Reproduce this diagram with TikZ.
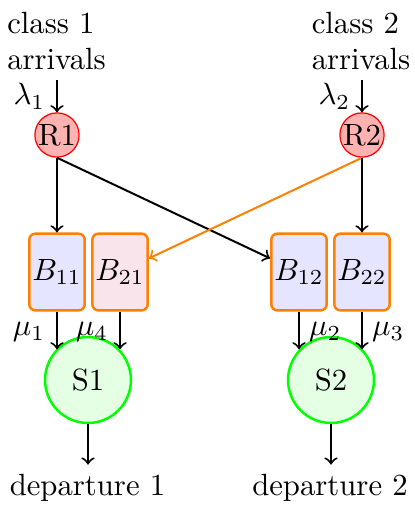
\documentclass[tikz,border=0pt]{standalone}
\usetikzlibrary{arrows}
\definecolor{bpink}{RGB}{250,228,235}
\tikzset{
  router/.style={circle, draw=red, fill=red!30, minimum size=14.4pt, inner sep=0pt},
  buffer/.style={rectangle, rounded corners=2pt, draw=orange, thick, fill=blue!10, minimum width=17.3pt, minimum height=25pt, inner sep=1pt},
  server/.style={circle, draw=green, thick, fill=green!10, minimum size=28pt, inner sep=0pt},
  txt/.style={align=left, inner sep=3pt},
  flow/.style={->, line width=0.65pt},
  lbll/.style={inner sep=3.5pt},
  lblr/.style={inner sep=3pt}
}
\begin{document}
\begin{tikzpicture}[x=0.3257pt, y=-0.3257pt]
\useasboundingbox (0,0) rectangle (414,506);
\node[txt] (C1) at (56.5,41) {class 1\\arrivals};
\node[txt] (C2) at (361,41) {class 2\\arrivals};
\node[router] (R1) at (57,135) {R1};
\node[router] (R2) at (362,135) {R2};
\node[buffer] (B11) at (57,272) {$B_{11}$};
\node[buffer, fill=bpink] (B21) at (120,272) {$B_{21}$};
\node[buffer] (B12) at (299,272) {$B_{12}$};
\node[buffer] (B22) at (362,272) {$B_{22}$};
\node[server] (S1) at (88,380) {S1};
\node[server] (S2) at (331,380) {S2};
\node[txt] (D1) at (87.5,488) {departure 1};
\node[txt] (D2) at (330,488) {departure 2};

\draw[flow] (C1.south -| R1.north) -- node[lbll, midway, left] {$\lambda_1$} (R1.north);
\draw[flow] (C2.south -| R2.north) -- node[lbll, midway, left] {$\lambda_2$} (R2.north);
\draw[flow] (R1.south) -- (B11.north -| R1.south);
\draw[flow] (R1.south) -- (B12);
\draw[flow, draw=orange] (R2.south) -- (B21);
\draw[flow] (R2.south) -- (B22.north -| R2.south);

\draw[flow] (B11.south) -- node[lbll, pos=0.55, left] {$\mu_1$} (B11.south |- S1.136);
\draw[flow] (B21.south) -- node[lbll, pos=0.55, left] {$\mu_4$} (B21.south |- S1.44);
\draw[flow] (B12.south) -- node[lblr, pos=0.55, right] {$\mu_2$} (B12.south |- S2.136);
\draw[flow] (B22.south) -- node[lblr, pos=0.55, right] {$\mu_3$} (B22.south |- S2.44);

\draw[flow] (S1.south) -- (S1.south |- D1.north);
\draw[flow] (S2.south) -- (S2.south |- D2.north);
\end{tikzpicture}
\end{document}
